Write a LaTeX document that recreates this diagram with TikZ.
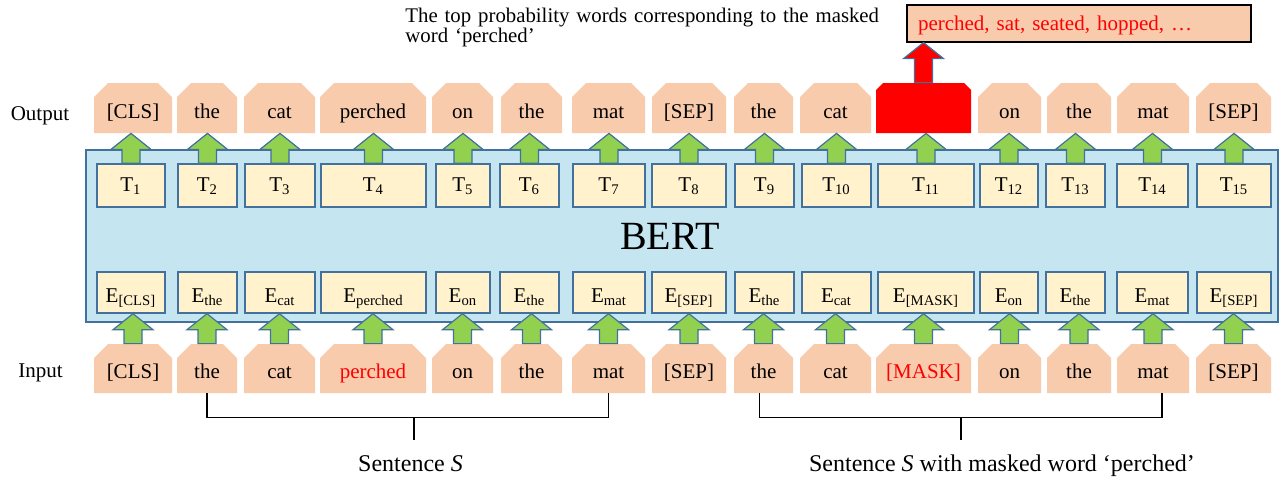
\documentclass[tikz,border=0pt]{standalone}
\usepackage{fontspec}
\setmainfont{Liberation Serif}
\usetikzlibrary{shapes.misc,calc}

\definecolor{peach}{HTML}{F8CBAD}
\definecolor{bertfill}{HTML}{C5E6F0}
\definecolor{tfill}{HTML}{FFF2CC}
\definecolor{edgeblue}{HTML}{41719C}
\definecolor{arrgreen}{HTML}{92D050}

\tikzset{
	tok/.style={chamfered rectangle,chamfered rectangle corners={north west,north east},
		chamfered rectangle xsep=3.5pt,chamfered rectangle ysep=3.5pt,fill=peach,inner sep=0pt,
		text height=10pt,text depth=0pt,font=\fontsize{10.5}{12}\selectfont},
	tebox/.style={rectangle,draw=edgeblue,line width=0.7pt,fill=tfill,inner sep=0pt,
		text depth=0pt,font=\fontsize{10.5}{12}\selectfont},
	garrow/.style={fill=arrgreen,draw=edgeblue,line width=0.6pt},
	rarrow/.style={fill=red,draw=edgeblue,line width=0.6pt},
	brk/.style={line width=0.9pt},
	lbl/.style={anchor=base,font=\fontsize{10.5}{12}\selectfont},
	captxt/.style={anchor=base,font=\fontsize{12}{14}\selectfont}
}

% block arrow from the top of #2 up to the bottom of #3
\newcommand{\blockarr}[3]{
	\draw[#1] let \p1=(#2.north), \p2=(#3.south) in
		(\x1-4.5pt,\y1) -- (\x1-4.5pt,\y2-8pt) -- (\x1-10pt,\y2-8pt) -- (\x1,\y2)
		-- (\x1+10pt,\y2-8pt) -- (\x1+4.5pt,\y2-8pt) -- (\x1+4.5pt,\y1) -- cycle;
}

\begin{document}
\begin{tikzpicture}[x=0.5pt,y=-0.5pt]
\useasboundingbox (0,0) rectangle (1283,478);
\draw[fill=bertfill,draw=edgeblue,line width=0.9pt] (86,150) rectangle (1278,322);
\node (bert) [anchor=base,font=\fontsize{20}{24}\selectfont] at (670,249) {BERT};
\node (lblout) [lbl] at (40,120) {Output};
\node (lblin) [lbl] at (40.5,377) {Input};
\foreach \i/\xl/\xr/\tl/\tr/\wo/\wi/\ic/\ofill in {
	1/94/172/97/165/{[CLS]}/{[CLS]}/black/peach,
	2/177/237/178/237/the/the/black/peach,
	3/244/315/245/315/cat/cat/black/peach,
	4/320/426/321/426/perched/perched/red/peach,
	5/432/493/436/490/on/on/black/peach,
	6/501/562/500/559/the/the/black/peach,
	7/572/645/573/645/mat/mat/black/peach,
	8/652/726/652/726/{[SEP]}/{[SEP]}/black/peach,
	9/734/793/735/794/the/the/black/peach,
	10/800/871/802/871/cat/cat/black/peach,
	11/876/971/878/974/{}/{[MASK]}/red/red,
	12/978/1041/980/1038/on/on/black/peach,
	13/1047/1111/1046/1105/the/the/black/peach,
	14/1117/1189/1117/1188/mat/mat/black/peach,
	15/1196/1271/1197/1271/{[SEP]}/{[SEP]}/black/peach}{
	\node (out\i) [tok,fill=\ofill,minimum width={(\xr-\xl)*0.5pt},minimum height=25pt] at ({(\xl+\xr)/2},108) {\wo};
	\node (t\i) [tebox,minimum width={(\tr-\tl)*0.5pt},minimum height=21.5pt,text height=6pt] at ({(\tl+\tr)/2},185.5) {T\textsubscript{\i}};
	\node (e\i) [tebox,minimum width={(\tr-\tl)*0.5pt},minimum height=20.5pt,text height=9.5pt] at ({(\tl+\tr)/2},292.5) {E\textsubscript{\wi}};
	\node (in\i) [tok,text=\ic,minimum width={(\xr-\xl)*0.5pt},minimum height=24.5pt] at ({(\xl+\xr)/2},368.5) {\wi};
	\blockarr{garrow}{t\i}{out\i}
	\blockarr{garrow}{in\i}{e\i}
}
% masked word prediction
\node (topw) [rectangle,draw=black,line width=0.6pt,fill=peach,minimum height=18.5pt,text width=161pt,
	inner xsep=5.5pt,inner ysep=0pt,align=left,text=red,text height=6.5pt,text depth=0pt,
	font=\fontsize{10.5}{12}\selectfont] at (1079,23.5) {perched, sat, seated, hopped, …};
\blockarr{rarrow}{out11}{topw}
\node (note) [anchor=north west,inner sep=0pt,text width=240pt,align=left,
	font={\fontsize{10.4}{9.6}\selectfont\lineskiplimit=-5pt}] at (405,8)
	{The top probability words corresponding to the masked\\word `perched'};
% sentence brackets
\draw[brk] (in2.south) -- ++(0,24) -| (in7.south);
\draw[brk] ($(in2.south)!0.515!(in7.south)+(0,24)$) -- ++(0,23);
\draw[brk] ([xshift=-2pt]in9.south) -- ++(0,24) -| ([xshift=4.5pt]in14.south);
\draw[brk] ($([xshift=-2pt]in9.south)!0.5!([xshift=4.5pt]in14.south)+(0,24)$) -- ++(0,23);
\node (sentA) [captxt] at (410.5,471) {Sentence \textit{S}};
\node (sentB) [captxt] at (1002,471) {Sentence \textit{S} with masked word `perched'};
\end{tikzpicture}
\end{document}
